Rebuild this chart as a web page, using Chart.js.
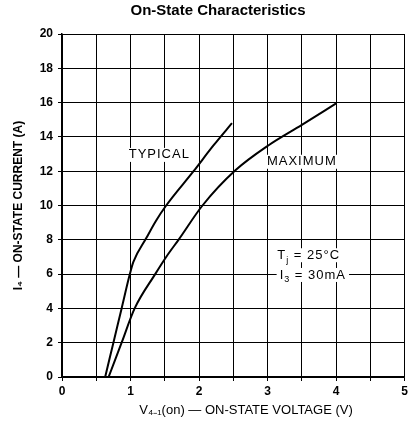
<!DOCTYPE html>
<html>
<head>
<meta charset="utf-8">
<script src="https://cdn.jsdelivr.net/npm/chart.js@4.4.0/dist/chart.umd.min.js"></script>
<style>
    html, body { margin: 0; padding: 0; background: #fff; }
    #wrap { width: 411px; height: 428px; }
</style>
</head>
<body>
<div id="wrap"><canvas id="mainChart"></canvas></div>
<script>
// values (V, A)
const typicalV = [0.63, 0.75, 0.87, 0.99, 1.04, 1.23, 1.37, 1.52, 1.92, 2.21, 2.48];
const typicalI = [0, 2.0, 4.0, 6.0, 6.7, 8.1, 9.1, 10.0, 12.0, 13.5, 14.8];
const maximumV = [0.68, 0.87, 1.06, 1.36, 1.52, 1.70, 2.05, 2.53, 3.01, 3.5, 4.0];
const maximumI = [0, 2.0, 4.0, 6.0, 7.0, 8.0, 10.0, 12.05, 13.5, 14.7, 15.95];

const xTicks = [0, 1, 2, 3, 4, 5];
const yTicks = [0, 2, 4, 6, 8, 10, 12, 14, 16, 18, 20];

const chartTitle = 'On-State Characteristics';
const xTitle = 'V₄₋₁(on) — ON-STATE VOLTAGE (V)';

// text notes on the plot: [parts, x, y]
const notes = [
    [[['TYPICAL', false]], 1.42, 12.95],
    [[['MAXIMUM', false]], 3.5, 12.55],
    [[['T', false], ['j', true], [' = 25°C', false]], 3.6, 7.1],
    [[['I', false], ['3', true], [' = 30mA', false]], 3.66, 5.95]
];

const toPoints = (xs, ys) => xs.map((x, i) => ({ x, y: ys[i] }));

const notesPlugin = {
    id: 'notes',
    afterDatasetsDraw(chart) {
        const ctx = chart.ctx;
        const xs = chart.scales.x, ys = chart.scales.y;
        ctx.save();
        ctx.textBaseline = 'middle';
        ctx.letterSpacing = '1px';
        notes.forEach(([parts, vx, vy]) => {
            const big = '13px "Liberation Sans", Arial, sans-serif';
            const small = '9px "Liberation Sans", Arial, sans-serif';
            let w = 0;
            parts.forEach(([t, sub]) => { ctx.font = sub ? small : big; w += ctx.measureText(t).width; });
            let px = xs.getPixelForValue(vx) - w / 2;
            const py = ys.getPixelForValue(vy);
            ctx.fillStyle = '#fff';
            ctx.fillRect(px - 3, py - 7, w + 6, 14);
            ctx.fillStyle = '#000';
            parts.forEach(([t, sub]) => {
                ctx.font = sub ? small : big;
                ctx.textAlign = 'left';
                ctx.fillText(t, px, sub ? py + 5 : py);
                px += ctx.measureText(t).width;
            });
        });
        ctx.letterSpacing = '0px';
        ctx.textAlign = 'center';
        // title sits a bit right of the canvas centre, over the plot
        ctx.font = 'bold 15px "Liberation Sans Narrow", "Liberation Sans", Arial, sans-serif';
        ctx.fillText(chartTitle, 218, 11);
        // x axis title, also shifted right like the scan
        ctx.font = '13px "Liberation Sans", Arial, sans-serif';
        ctx.fillText(xTitle, 246, 410);
        ctx.restore();
    }
};

const tickFont = { family: '"Liberation Sans", Arial, sans-serif', size: 12, weight: 'bold' };

new Chart(document.getElementById('mainChart').getContext('2d'), {
    type: 'scatter',
    data: {
        datasets: [
            {
                label: 'Typical',
                data: toPoints(typicalV, typicalI),
                showLine: true,
                borderColor: '#000',
                borderWidth: 2,
                pointRadius: 0,
                cubicInterpolationMode: 'monotone'
            },
            {
                label: 'Maximum',
                data: toPoints(maximumV, maximumI),
                showLine: true,
                borderColor: '#000',
                borderWidth: 2,
                pointRadius: 0,
                cubicInterpolationMode: 'monotone'
            }
        ]
    },
    options: {
        responsive: true,
        maintainAspectRatio: false,
        animation: false,
        layout: { padding: { left: 0, right: 4, top: 34, bottom: 0 } },
        plugins: {
            legend: { display: false },
            tooltip: { enabled: false },
            title: { display: false }
        },
        scales: {
            x: {
                type: 'linear',
                min: 0,
                max: 5,
                ticks: {
                    stepSize: 0.5,
                    color: '#000',
                    font: tickFont,
                    padding: 3,
                    maxRotation: 0,
                    callback: (v) => xTicks.includes(v) ? String(v) : ''
                },
                grid: { color: '#000', lineWidth: 1, tickLength: 4, drawTicks: true },
                border: { color: '#000', width: 1.5 },
                title: { display: false },
                afterFit: (scale) => { scale.height = 51; }
            },
            y: {
                type: 'linear',
                min: 0,
                max: 20,
                ticks: {
                    stepSize: 2,
                    color: '#000',
                    font: tickFont,
                    padding: 5,
                    callback: (v) => yTicks.includes(v) ? String(v) : ''
                },
                grid: { color: '#000', lineWidth: 1, tickLength: 4 },
                border: { color: '#000', width: 1.5 },
                title: {
                    display: true,
                    text: 'I₄ — ON-STATE CURRENT (A)',
                    color: '#000',
                    font: { family: '"Liberation Sans", Arial, sans-serif', size: 12, weight: 'bold' },
                    padding: { top: 11, bottom: 4 }
                },
                afterFit: (scale) => { scale.width = 62; }
            }
        }
    },
    plugins: [notesPlugin]
});
</script>
</body>
</html>
